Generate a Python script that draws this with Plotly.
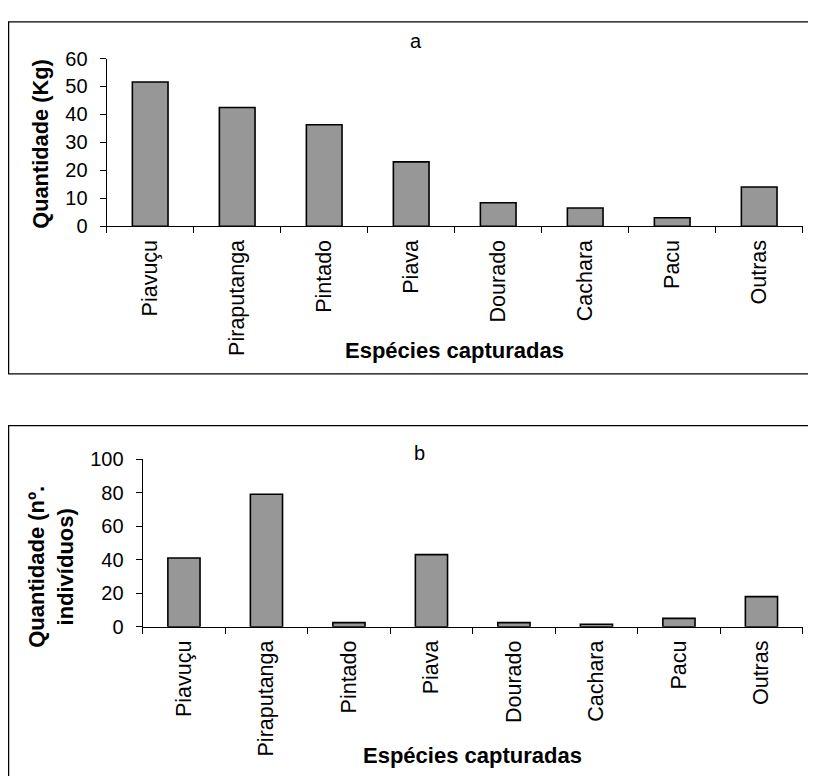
import plotly.graph_objects as go

species = ["Piavuçu", "Piraputanga", "Pintado", "Piava", "Dourado", "Cachara", "Pacu", "Outras"]
kg_values = [51.6, 42.5, 36.3, 23.0, 8.4, 6.5, 3.0, 14.0]
count_values = [41, 79, 2.5, 43, 2.5, 1.5, 5, 18]
kg_ticks = [0, 10, 20, 30, 40, 50, 60]
count_ticks = [0, 20, 40, 60, 80, 100]

# page body has an 8px margin; figure fills the rest of the 816x784 window
OX, OY = 8, 8
W, H = 800, 768
FONT = "Liberation Sans, Arial, sans-serif"
BAR_FILL = "#979797"

def px(x):
    return (x - OX) / W

def py(y):
    return 1 - (y - OY) / H

fig = go.Figure()
fig.add_trace(go.Bar(x=species, y=kg_values, xaxis="x", yaxis="y", width=0.41,
                     marker=dict(color=BAR_FILL, line=dict(color="black", width=1.6)),
                     showlegend=False))
fig.add_trace(go.Bar(x=species, y=count_values, xaxis="x2", yaxis="y2", width=0.39,
                     marker=dict(color=BAR_FILL, line=dict(color="black", width=1.6)),
                     showlegend=False))

xcommon = dict(type="category", showline=True, linecolor="black", linewidth=1.3,
               ticks="outside", tickson="boundaries", ticklen=6, tickcolor="black",
               tickwidth=1.2, tickangle=-90, showgrid=False, zeroline=False,
               tickfont=dict(family=FONT, size=21.5, color="black"),
               ticklabelstandoff=4)
ycommon = dict(showline=True, linecolor="black", linewidth=1.3, ticks="outside",
               ticklen=6, tickcolor="black", tickwidth=1.2, showgrid=False,
               zeroline=False, tickfont=dict(family=FONT, size=20, color="black"),
               ticklabelstandoff=8)

fig.update_layout(
    width=W, height=H, autosize=False,
    margin=dict(l=0, r=0, t=0, b=0),
    paper_bgcolor="white", plot_bgcolor="white",
    xaxis=dict(domain=[px(106.7), px(802.7)], anchor="y", **xcommon),
    yaxis=dict(domain=[py(221.3), py(48.7)], anchor="x", range=[0, 60],
               tickvals=kg_ticks, **ycommon),
    xaxis2=dict(domain=[px(142.7), px(802.7)], anchor="y2", **xcommon),
    yaxis2=dict(domain=[py(633.7), py(461)], anchor="x2", range=[0, 100],
                tickvals=count_ticks, **ycommon),
)

# chart frames
fig.add_shape(type="rect", xref="paper", yref="paper",
              x0=px(8.6), x1=px(830), y0=py(373.3), y1=py(11),
              line=dict(color="black", width=1.3), fillcolor="rgba(0,0,0,0)", layer="below")
fig.add_shape(type="rect", xref="paper", yref="paper",
              x0=px(8.6), x1=px(830), y0=py(800), y1=py(426.7),
              line=dict(color="black", width=1.3), fillcolor="rgba(0,0,0,0)", layer="below")

def ann(text, x, y, size, bold=False, angle=0):
    fig.add_annotation(text=f"<b>{text}</b>" if bold else text, x=px(x), y=py(y),
                       xref="paper", yref="paper", showarrow=False, textangle=angle,
                       xanchor="center", yanchor="middle",
                       font=dict(family=FONT, size=size, color="black"))

ann("a", 416, 31, 20)
ann("b", 419, 455, 20)
ann("Quantidade (Kg)", 41, 136.5, 21.8, bold=True, angle=-90)
ann("Quantidade (nº.<br>indivíduos)", 51, 572, 22, bold=True, angle=-90)
ann("Espécies capturadas", 454.7, 349, 22, bold=True)
ann("Espécies capturadas", 472.7, 766, 22, bold=True)

fig.write_html("out.html")
